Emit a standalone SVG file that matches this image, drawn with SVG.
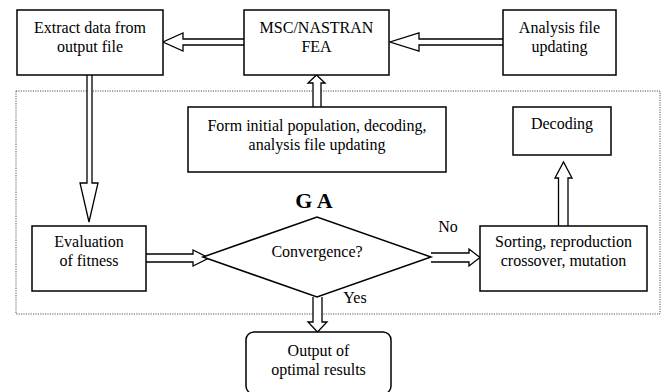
<svg xmlns="http://www.w3.org/2000/svg" width="662" height="392" viewBox="0 0 662 392" font-family="'Liberation Serif', 'DejaVu Serif', serif">
<style>
.box{fill:#fff;stroke:#000;stroke-width:1.5}
.arr{fill:#fff;stroke:#000;stroke-width:1.3;stroke-linejoin:miter}
text{font-family:'Liberation Serif','DejaVu Serif',serif;font-size:16px;fill:#000;text-anchor:middle}
.ga{font-size:22px;font-weight:bold}
</style>
<rect width="662" height="392" fill="#fff"/>
<rect x="16" y="91" width="644" height="223" fill="none" stroke="#555" stroke-width="1" stroke-dasharray="1.2,1.2"/>
<g id="connectors">
<path class="arr" d="M244,39 H183 V33 L163,42 L183,51 V45 H244"/>
<path class="arr" d="M503,39 H419 V33 L390,42 L419,51 V45 H503"/>
<path class="arr" d="M87,75 V183 H80 L89,222 L98,183 H92 V75"/>
<path class="arr" d="M313,107 V83 H308 L316.5,75 L325,83 H321 V107"/>
<path class="arr" d="M146,254 H193 V250 L209,258 L193,266 V262 H146"/>
<path class="arr" d="M431,253 H469 V249 L480,257.5 L469,266 V262 H431"/>
<path class="arr" d="M558.5,226 V178 H555 L563.5,162 L572,178 H568 V226"/>
<path class="arr" d="M313,297 V322 H308 L317.5,332 L327,322 H322 V297"/>
</g>
<g id="extract"><rect class="box" x="17" y="10" width="146" height="65"/><text x="90" y="33">Extract data from</text><text x="90" y="52">output file</text></g>
<g id="msc"><rect class="box" x="244" y="10" width="145" height="65"/><text x="316.5" y="33">MSC/NASTRAN</text><text x="316.5" y="52">FEA</text></g>
<g id="analysis"><rect class="box" x="503" y="10" width="113" height="65"/><text x="559.5" y="33">Analysis file</text><text x="559.5" y="52">updating</text></g>
<g id="form"><rect class="box" x="188" y="107" width="258" height="65"/><text x="317" y="131">Form initial population, decoding,</text><text x="317" y="150">analysis file updating</text></g>
<g id="decoding"><rect class="box" x="513" y="107" width="98" height="48"/><text x="562" y="129">Decoding</text></g>
<g id="evaluation"><rect class="box" x="32" y="226" width="114" height="65"/><text x="89" y="247">Evaluation</text><text x="89" y="266">of fitness</text></g>
<g id="convergence"><polygon class="box" points="203,257 317,217 431,257 317,297"/><text x="317" y="257">Convergence?</text></g>
<g id="ga"><text class="ga" x="314" y="208">G A</text></g>
<g id="sorting"><rect class="box" x="480" y="226" width="167" height="65"/><text x="563.5" y="247">Sorting, reproduction</text><text x="563.5" y="266">crossover, mutation</text></g>
<g id="output"><rect class="box" x="246" y="332" width="145" height="62" rx="8"/><text x="318.5" y="356">Output of</text><text x="318.5" y="375">optimal results</text></g>
<g id="labels"><text x="448" y="232">No</text><text x="355" y="303">Yes</text></g>
</svg>
